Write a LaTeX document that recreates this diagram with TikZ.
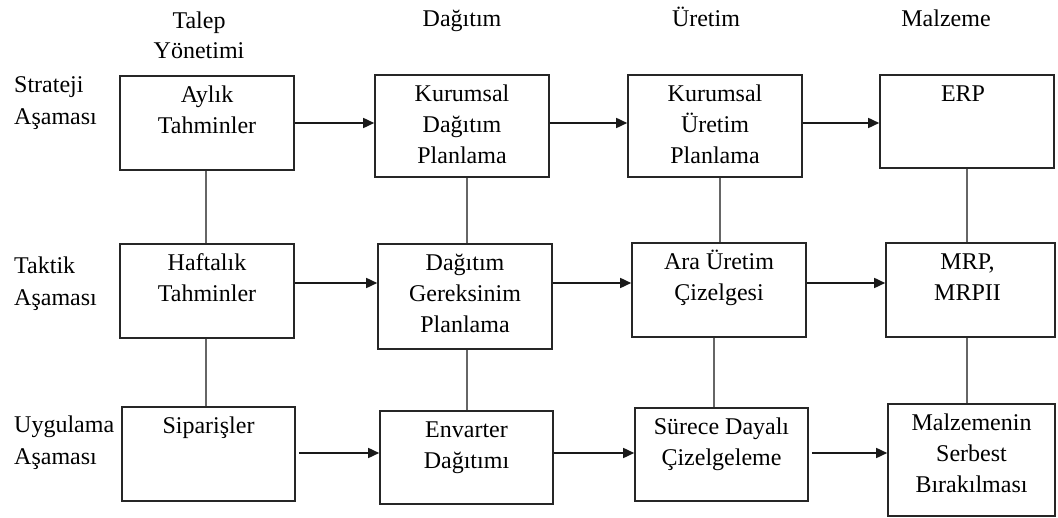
\documentclass[tikz,border=0pt]{standalone}
\usepackage{fontspec}
\setmainfont{Liberation Serif}
\usetikzlibrary{arrows.meta}
\begin{document}
\begin{tikzpicture}[x=1pt,y=-1pt,
  box/.style={draw=black!85, line width=1.6pt, inner sep=0pt, minimum width=174pt},
  boxtext/.style={anchor=north, inner sep=0pt, align=center, font=\fontsize{24}{31}\selectfont},
  sidetext/.style={anchor=north west, inner sep=0pt, align=left, font=\fontsize{24}{32}\selectfont},
  head/.style={inner sep=0pt, align=center, font=\fontsize{24}{30}\selectfont},
  flow/.style={draw=black!90, line width=1.6pt, -{Triangle[length=11pt,width=10pt]}},
  link/.style={draw=black!60, line width=1.9pt},
]
\useasboundingbox (0,0) rectangle (1058,518);

% column headings
\node[head, anchor=north] (hTalep) at (199,7) {\strut Talep\\\strut Yönetimi};
\node[head, anchor=base] (hDag) at (462,27) {Dağıtım};
\node[head, anchor=base] (hUre) at (706,27) {Üretim};
\node[head, anchor=base] (hMal) at (946,27) {Malzeme};

% row headings
\node[sidetext] (sStr) at (14,69.6) {\strut Strateji\\\strut Aşaması};
\node[sidetext] (sTak) at (14,250.6) {\strut Taktik\\\strut Aşaması};
\node[sidetext] (sUyg) at (14,409.6) {\strut Uygulama\\\strut Aşaması};

% boxes: strategic level
\node[box, minimum height=94pt] (A1) at (207,123) {};
\node[box, minimum height=102pt] (A2) at (462,126) {};
\node[box, minimum height=102pt] (A3) at (715,126) {};
\node[box, minimum height=93pt] (A4) at (967,121.5) {};
% boxes: tactical level
\node[box, minimum height=94pt] (B1) at (207,291) {};
\node[box, minimum height=105pt] (B2) at (465,296.5) {};
\node[box, minimum height=94pt] (B3) at (719,290) {};
\node[box, minimum height=94pt, minimum width=169pt] (B4) at (970.5,290) {};
% boxes: execution level
\node[box, minimum height=94pt, minimum width=173pt] (C1) at (208.5,454) {};
\node[box, minimum height=93pt, minimum width=173pt] (C2) at (466.5,457.5) {};
\node[box, minimum height=93pt, minimum width=173pt] (C3) at (721.5,454.5) {};
\node[box, minimum height=112pt, minimum width=167pt] (C4) at (971.5,460) {};

% box texts, set from the top edge
\node[boxtext] (tA1) at ([yshift=-5.3pt]A1.north) {\strut Aylık\\\strut Tahminler};
\node[boxtext] (tA2) at ([yshift=-5.3pt]A2.north) {\strut Kurumsal\\\strut Dağıtım\\\strut Planlama};
\node[boxtext] (tA3) at ([yshift=-5.3pt]A3.north) {\strut Kurumsal\\\strut Üretim\\\strut Planlama};
\node[boxtext] (tA4) at ([xshift=-4pt,yshift=-5.3pt]A4.north) {\strut ERP};
\node[boxtext] (tB1) at ([yshift=-5.3pt]B1.north) {\strut Haftalık\\\strut Tahminler};
\node[boxtext] (tB2) at ([yshift=-5.3pt]B2.north) {\strut Dağıtım\\\strut Gereksinim\\\strut Planlama};
\node[boxtext] (tB3) at ([yshift=-5.3pt]B3.north) {\strut Ara Üretim\\\strut Çizelgesi};
\node[boxtext] (tB4) at ([xshift=-3pt,yshift=-5.3pt]B4.north) {\strut MRP,\\\strut MRPII};
\node[boxtext] (tC1) at ([yshift=-5.3pt]C1.north) {\strut Siparişler};
\node[boxtext] (tC2) at ([yshift=-5.3pt]C2.north) {\strut Envarter\\\strut Dağıtımı};
\node[boxtext] (tC3) at ([yshift=-5.3pt]C3.north) {\strut Sürece Dayalı\\\strut Çizelgeleme};
\node[boxtext] (tC4) at ([yshift=-5.3pt]C4.north) {\strut Malzemenin\\\strut Serbest\\\strut Bırakılması};

% heights of the horizontal flows in each row
\coordinate (r1) at (0,123);
\coordinate (r2) at (0,283);
\coordinate (r3) at (0,453);
% positions of the vertical links in each column
\coordinate (v1) at (206,0);
\coordinate (v2) at (467,0);
\coordinate (v3a) at (720,0);
\coordinate (v3b) at (714,0);
\coordinate (v4) at (967,0);

% horizontal flows
\draw[flow] (A1.east |- r1) -- (A2.west |- r1);
\draw[flow] (A2.east |- r1) -- (A3.west |- r1);
\draw[flow] (A3.east |- r1) -- (A4.west |- r1);
\draw[flow] (B1.east |- r2) -- (B2.west |- r2);
\draw[flow] (B2.east |- r2) -- (B3.west |- r2);
\draw[flow] (B3.east |- r2) -- (B4.west |- r2);
\draw[flow] ([xshift=3pt]C1.east |- r3) -- (C2.west |- r3);
\draw[flow] (C2.east |- r3) -- (C3.west |- r3);
\draw[flow] ([xshift=3pt]C3.east |- r3) -- (C4.west |- r3);

% vertical links between levels
\draw[link] (A1.south -| v1) -- (B1.north -| v1);
\draw[link] (B1.south -| v1) -- (C1.north -| v1);
\draw[link] (A2.south -| v2) -- (B2.north -| v2);
\draw[link] (B2.south -| v2) -- (C2.north -| v2);
\draw[link] (A3.south -| v3a) -- (B3.north -| v3a);
\draw[link] (B3.south -| v3b) -- (C3.north -| v3b);
\draw[link] (A4.south -| v4) -- (B4.north -| v4);
\draw[link] (B4.south -| v4) -- (C4.north -| v4);
\end{tikzpicture}
\end{document}
